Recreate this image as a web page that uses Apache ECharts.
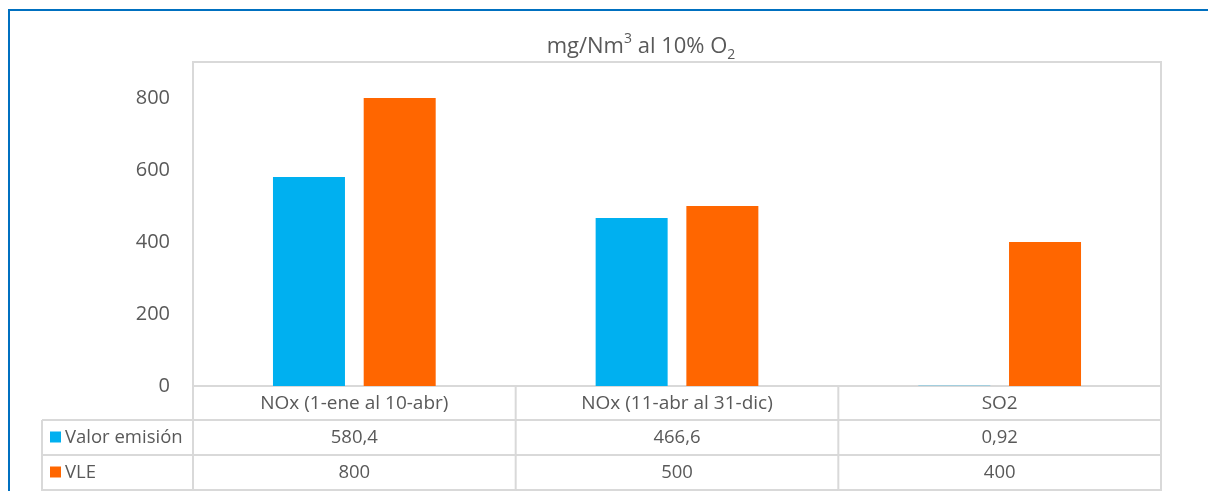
<!DOCTYPE html>
<html><head><meta charset="utf-8">
<script src="https://cdn.jsdelivr.net/npm/echarts@6/dist/echarts.min.js"></script>
<style>html,body{margin:0;padding:0;background:#fff}#c{width:1208px;height:491px}</style>
</head><body><div id="c"></div>
<script>
const categories = ['NOx (1-ene al 10-abr)', 'NOx (11-abr al 31-dic)', 'SO2'];
const seriesNames = ['Valor emisión', 'VLE'];
const emision = [580.4, 466.6, 0.92];
const vle = [800, 500, 400];
const yTicks = [0, 200, 400, 600, 800];

const colors = ['#00b0f0', '#ff6600'];
const FONT = '"Open Sans", Lato, sans-serif';
const TXT = '#595959';
const LINE = '#d9d9d9';
const G = {left: 193, right: 1161, top: 62, bottom: 386};
const rowH = 35;
const tableLeft = 42;

function fmt(v){ return String(v).replace('.', ','); }

const chart = echarts.init(document.getElementById('c'), null, {renderer: 'canvas'});
chart.setOption({
  animation: false,
  title: {
    text: '{a|mg/Nm}{s|3}{a| al 10% O}{b|2}',
    left: 636, top: 27, textAlign: 'center',
    textStyle: {
      fontWeight: 'normal',
      rich: {
        a: {fontFamily: FONT, fontSize: 22, fontWeight: 'normal', color: TXT, lineHeight: 30},
        s: {fontFamily: FONT, fontSize: 14, fontWeight: 'normal', color: TXT, verticalAlign: 'top', padding: [0, 0, 6, 0], lineHeight: 30},
        b: {fontFamily: FONT, fontSize: 14, fontWeight: 'normal', color: TXT, verticalAlign: 'bottom', padding: [8, 0, 0, 0], lineHeight: 30}
      }
    }
  },
  grid: {left: G.left, right: 1208 - G.right, top: G.top, bottom: 491 - G.bottom, show: true, borderColor: LINE, borderWidth: 2, containLabel: false},
  xAxis: {
    type: 'category', data: categories,
    axisLine: {show: false}, axisTick: {show: false},
    axisLabel: {fontFamily: FONT, fontSize: 19, color: TXT, margin: 8}
  },
  yAxis: {
    type: 'value', min: 0, max: 900, interval: 100,
    splitLine: {show: false}, axisLine: {show: false}, axisTick: {show: false},
    axisLabel: {
      fontFamily: FONT, fontSize: 20, color: TXT, margin: 23,
      formatter: v => yTicks.indexOf(v) >= 0 ? String(v) : ''
    }
  },
  series: [
    {name: seriesNames[0], type: 'bar', data: emision, barWidth: 72, barGap: '26%', itemStyle: {color: colors[0]}},
    {name: seriesNames[1], type: 'bar', data: vle, barWidth: 72, barGap: '26%', itemStyle: {color: colors[1]}}
  ]
});

// data table below the plot
const els = [];
const lineStyle = {stroke: LINE, lineWidth: 2};
const colW = (G.right - G.left) / categories.length;
const y0 = G.bottom, y1 = 420, y2 = 455, y3 = 490;
els.push({type: 'line', shape: {x1: G.left, y1: y0, x2: G.right, y2: y0}, style: lineStyle});
[y1, y2, y3].forEach(y => els.push({type: 'line', shape: {x1: tableLeft, y1: y, x2: G.right, y2: y}, style: lineStyle}));
els.push({type: 'line', shape: {x1: tableLeft, y1: y1, x2: tableLeft, y2: 491}, style: lineStyle});
for (let i = 0; i <= categories.length; i++) {
  const x = G.left + i * colW;
  els.push({type: 'line', shape: {x1: x, y1: (i === 0 || i === categories.length) ? G.top : y0, x2: x, y2: 491}, style: lineStyle});
}
const rows = [emision, vle];
const rowTops = [y1, y2];
rows.forEach((arr, r) => {
  const cy = rowTops[r] + rowH / 2;
  els.push({type: 'rect', shape: {x: 50, y: cy - 6, width: 11, height: 11}, style: {fill: colors[r]}});
  els.push({type: 'text', style: {text: seriesNames[r], x: 65, y: cy, textVerticalAlign: 'middle', fill: TXT, font: '18.5px ' + FONT}});
  arr.forEach((v, i) => {
    const cx = G.left + colW * (i + 0.5);
    els.push({type: 'text', style: {text: fmt(v), x: cx, y: cy, textAlign: 'center', textVerticalAlign: 'middle', fill: TXT, font: '18.5px ' + FONT}});
  });
});
els.push({type: 'line', shape: {x1: 8, y1: 10, x2: 1208, y2: 10}, style: {stroke: '#0070c0', lineWidth: 2}});
els.push({type: 'line', shape: {x1: 9, y1: 10, x2: 9, y2: 491}, style: {stroke: '#0070c0', lineWidth: 2}});
chart.setOption({graphic: {elements: els}});
</script></body></html>
